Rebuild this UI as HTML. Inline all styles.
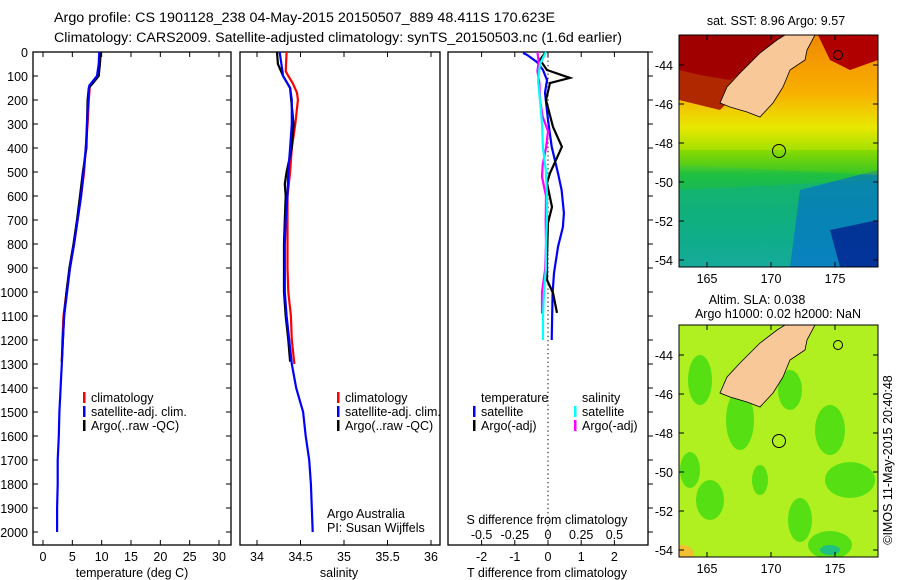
<!DOCTYPE html>
<html><head><meta charset="utf-8"><style>
html,body{margin:0;padding:0;background:#fff}
svg{display:block;font-family:"Liberation Sans",sans-serif}
text{font-size:12.5px;fill:#000}
</style></head><body>
<svg id="fig" width="900" height="580" viewBox="0 0 900 580">
<text x="54" y="22" textLength="501" lengthAdjust="spacingAndGlyphs" style="font-size:13.5px">Argo profile: CS 1901128_238 04-May-2015 20150507_889 48.411S 170.623E</text>
<text x="54" y="42" textLength="568" lengthAdjust="spacingAndGlyphs" style="font-size:13.5px">Climatology: CARS2009. Satellite-adjusted climatology: synTS_20150503.nc (1.6d earlier)</text>
<g id="panels"></g>
<g id="maps"></g>
</svg>
<script>
// ---- data ----
const depthTicks=[0,100,200,300,400,500,600,700,800,900,1000,1100,1200,1300,1400,1500,1600,1700,1800,1900,2000];
const tempTicks=[0,5,10,15,20,25,30];
const salTicks=[34,34.5,35,35.5,36];
const tdiffTicks=[-2,-1,0,1,2];
const sdiffTicks=[-0.5,-0.25,0,0.25,0.5];
// temperature
const tSatDepth=[0,50,100,140,200,300,400,500,600,700,800,900,1000,1100,1200,1300,1400,1500,1600,1700,1800,1900,2000];
const tSatVal=[9.6,9.5,9.2,7.9,7.7,7.5,7.3,6.9,6.5,5.9,5.3,4.6,4.1,3.6,3.4,3.2,3.0,2.8,2.7,2.5,2.5,2.4,2.4];
const tClimDepth=[0,50,100,140,200,300,400,500,600,700,800,900,1000,1100,1200,1290];
const tClimVal=[9.8,9.7,9.3,8.0,7.8,7.6,7.3,7.0,6.5,5.9,5.3,4.6,4.0,3.5,3.3,3.2];
const tArgoDepth=[0,50,100,130,150,200,300,400,500,600,700,800,900,1000,1100,1200,1290];
const tArgoVal=[9.8,9.7,9.5,8.5,7.8,7.6,7.5,7.4,6.8,6.3,5.8,5.2,4.5,4.0,3.6,3.4,3.2];
// salinity
const sSatDepth=[0,50,100,150,200,300,400,500,600,700,800,900,1000,1100,1200,1300,1400,1500,1600,1700,1800,1900,2000];
const sSatVal=[34.26,34.28,34.30,34.38,34.40,34.40,34.38,34.36,34.35,34.33,34.32,34.32,34.32,34.34,34.37,34.40,34.45,34.53,34.56,34.60,34.62,34.63,34.64];
const sClimDepth=[0,80,100,130,170,200,300,400,500,600,700,800,900,1000,1100,1200,1300];
const sClimVal=[34.34,34.33,34.36,34.41,34.46,34.47,34.44,34.40,34.38,34.35,34.35,34.35,34.35,34.36,34.39,34.40,34.43];
const sArgoDepth=[0,50,100,150,300,400,500,550,600,700,800,900,1000,1100,1200,1290];
const sArgoVal=[34.23,34.24,34.30,34.38,34.42,34.40,34.34,34.32,34.33,34.32,34.31,34.31,34.31,34.33,34.36,34.38];
// differences
const dTSatDepth=[4,12,42,75,117,170,283,395,505,575,671,729,812,921,1004,1200];
const dTSatVal=[-0.75,-0.63,-0.33,-0.15,-0.03,-0.09,0,0.11,0.30,0.41,0.48,0.45,0.30,0.18,0.14,0.11];
const dTArgoDepth=[4,33,75,108,129,200,312,395,505,546,646,712,854,950,1004,1087];
const dTArgoVal=[-0.09,-0.24,-0.03,0.66,0.06,-0.06,0.15,0.42,0.06,-0.03,0.12,0,-0.03,-0.03,0.15,0.27];
const dSSatDepth=[0,50,120,200,300,400,500,600,700,800,900,1000,1100,1200];
const dSSatVal=[-0.015,-0.06,-0.075,-0.06,-0.045,-0.038,-0.015,-0.008,-0.008,-0.015,-0.015,-0.03,-0.038,-0.038];
const dSArgoDepth=[0,40,80,130,200,270,330,400,470,520,600,700,800,900,1000,1090];
const dSArgoVal=[-0.08,-0.07,-0.08,-0.065,-0.06,-0.04,0,-0.015,-0.04,-0.045,-0.015,-0.017,-0.015,-0.02,-0.045,-0.045];

const NS='http://www.w3.org/2000/svg';
function mk(tag,attrs,parent){const e=document.createElementNS(NS,tag);for(const k in attrs)e.setAttribute(k,attrs[k]);parent.appendChild(e);return e;}
const Y0=52,Y1=532,BOT=545;
const yD=d=>Y0+(Y1-Y0)*d/2000;
const panels=document.getElementById('panels');
function linAx(v0,x0,v1,x1){return v=>x0+(v-v0)*(x1-x0)/(v1-v0);}
const xT=linAx(0,43,30,219), xS=linAx(34,257,36,431), xDT=linAx(0,548,1,581.2), xDS=linAx(0,548,0.25,581.2);

function frame(x0,x1,name){
  const r=mk('rect',{x:x0,y:Y0,width:x1-x0,height:BOT-Y0,fill:'none',stroke:'#000','stroke-width':1.3},panels);
  
  
}
function xticks(ticks,fx,labY,fmt,name){
  ticks.forEach(t=>{const x=fx(t);
    mk('line',{x1:x,x2:x,y1:Y0,y2:Y0+5,stroke:'#000'},panels);
    mk('line',{x1:x,x2:x,y1:BOT,y2:BOT-5,stroke:'#000'},panels);
    const tx=mk('text',{x:x,y:labY,'text-anchor':'middle'},panels);tx.textContent=fmt(t);
    
    
  });
}
function line(dep,val,fx,color,name){
  const pts=dep.map((d,i)=>fx(val[i]).toFixed(1)+','+yD(d).toFixed(1)).join(' ');
  const p=mk('polyline',{points:pts,fill:'none',stroke:color,'stroke-width':2.2},panels);
  
  
}
function label(x,y,s,name,anchor){const t=mk('text',{x:x,y:y,'text-anchor':anchor||'start'},panels);t.textContent=s;
  
  return t;}
function legend(x,y,color,s,name){mk('rect',{x:x,y:y-10,width:2.5,height:11,fill:color},panels);label(x+8,y,s,name);}

frame(33,231,'temperature-panel');frame(240,440,'salinity-panel');frame(448,648,'difference-panel');
depthTicks.forEach(d=>{const y=yD(d);
  mk('line',{x1:33,x2:38,y1:y,y2:y,stroke:'#000'},panels);
  mk('line',{x1:231,x2:226,y1:y,y2:y,stroke:'#000'},panels);
  mk('line',{x1:648,x2:653,y1:y,y2:y,stroke:'#000'},panels);
  label(28,y+5,String(d),'depth-tick-label','end');
});
xticks(tempTicks,xT,561,String,'temperature-tick-label');
xticks(salTicks,xS,561,String,'salinity-tick-label');
xticks(tdiffTicks,xDT,561,String,'t-diff-tick-label');
sdiffTicks.forEach(t=>{const tx=label(xDS(t),539,String(t).replace('-','\u22120').replace('\u22120.','-0.').replace('0.','0.'),'s-diff-tick-label','middle');tx.textContent=String(t);});
label(132,577,'temperature (deg C)','temperature-axis-title','middle');
label(339,577,'salinity','salinity-axis-title','middle');
label(547,577,'T difference from climatology','t-diff-axis-title','middle');
label(547,524,'S difference from climatology','s-diff-axis-title','middle');
mk('line',{x1:548,x2:548,y1:Y0,y2:BOT,stroke:'#000','stroke-dasharray':'1.3 3'},panels);

line(tClimDepth,tClimVal,xT,'#ff0000','temp-climatology-line');
line(tArgoDepth,tArgoVal,xT,'#000000','temp-argo-line');
line(tSatDepth,tSatVal,xT,'#0000ff','temp-satellite-line');
line(sClimDepth,sClimVal,xS,'#ff0000','sal-climatology-line');
line(sArgoDepth,sArgoVal,xS,'#000000','sal-argo-line');
line(sSatDepth,sSatVal,xS,'#0000ff','sal-satellite-line');
line(dTSatDepth,dTSatVal,xDT,'#0000ff','tdiff-satellite-line');
line(dTArgoDepth,dTArgoVal,xDT,'#000000','tdiff-argo-line');
line(dSArgoDepth,dSArgoVal,xDS,'#ff00ff','sdiff-argo-line');
line(dSSatDepth,dSSatVal,xDS,'#00ffff','sdiff-satellite-line');

legend(83,402,'#ff0000','climatology','legend-climatology');
legend(83,416,'#0000ff','satellite-adj. clim.','legend-satellite-adj');
legend(83,430,'#000000','Argo(..raw -QC)','legend-argo');
legend(337,402,'#ff0000','climatology','legend-climatology');
legend(337,416,'#0000ff','satellite-adj. clim.','legend-satellite-adj');
legend(337,430,'#000000','Argo(..raw -QC)','legend-argo');
label(481,402,'temperature','legend-temperature-header');
label(582,402,'salinity','legend-salinity-header');
legend(473,416,'#0000ff','satellite','legend-t-satellite');
legend(473,430,'#000000','Argo(-adj)','legend-t-argo');
legend(574,416,'#00ffff','satellite','legend-s-satellite');
legend(574,430,'#ff00ff','Argo(-adj)','legend-s-argo');
label(327,518,'Argo Australia','credit-argo-australia');
label(327,532,'PI: Susan Wijffels','credit-pi');

// ---- maps ----
const lonTicks=[165,170,175];
const latTicks=[-44,-46,-48,-50,-52,-54];
const maps=document.getElementById('maps');
const mx=lon=>707+(lon-165)*12.8;
const land=[[785,35],[815,35],[807,50],[805,60],[790,70],[783,87],[773,103],[760,117],[747,112],[730,107],[720,103],[727,87],[740,73],[760,53],[777,40]];
function drawMap(oy,kind,name){
  const g=mk('g',{},maps);
  
  
  const id='cl'+kind;
  const cp=mk('clipPath',{id:id},g);mk('rect',{x:679,y:35+oy,width:199,height:232},cp);
  const inner=mk('g',{'clip-path':'url(#'+id+')'},g);
  if(kind==='sst'){
    const d=mk('defs',{},g);const lg=mk('linearGradient',{id:'gsst',x1:0,y1:0,x2:0,y2:1},d);
    [[0,'#f08800'],[0.25,'#f8b000'],[0.4,'#e8e800'],[0.5,'#a0e000'],[0.6,'#20c040'],[0.75,'#10b070'],[0.9,'#10a8a0'],[1,'#20a0c0']].forEach(s=>mk('stop',{offset:s[0],'stop-color':s[1]},lg));
    mk('rect',{x:679,y:35,width:199,height:232,fill:'url(#gsst)'},inner);
    mk('polygon',{points:'679,35 790,35 740,90 720,110 679,100',fill:'#b02800'},inner);
    mk('polygon',{points:'679,35 790,35 760,60 730,80 700,75 679,70',fill:'#a00000'},inner);
    mk('polygon',{points:'818,35 878,35 878,60 850,70 830,60',fill:'#b00000'},inner);
    mk('polygon',{points:'679,190 878,180 878,267 679,267',fill:'#10b080','opacity':0.6},inner);
    mk('polygon',{points:'800,190 878,170 878,267 790,267',fill:'#0060e0','opacity':0.55},inner);
    mk('polygon',{points:'830,230 878,220 878,267 840,267',fill:'#000080','opacity':0.6},inner);
    mk('polygon',{points:'679,150 878,150 878,175 679,165',fill:'#60d000','opacity':0.4},inner);
  } else {
    mk('rect',{x:679,y:325,width:199,height:232,fill:'#b0f020'},inner);
    [[700,380,12,25],[740,420,14,30],[790,390,12,20],[830,430,15,25],[710,500,14,20],[850,480,25,18],[800,520,12,22],[830,545,22,14],[760,480,8,15],[690,470,10,18]].forEach(b=>mk('ellipse',{cx:b[0],cy:b[1],rx:b[2],ry:b[3],fill:'#40dc10',opacity:0.8},inner));
    mk('ellipse',{cx:682,cy:555,rx:12,ry:10,fill:'#f0c030'},inner);
    mk('ellipse',{cx:830,cy:550,rx:10,ry:5,fill:'#20c080'},inner);
  }
  mk('polygon',{points:land.map(p=>p[0]+','+(p[1]+oy)).join(' '),fill:'#f8c898',stroke:'#000','stroke-width':0.8},inner);
  mk('circle',{cx:779,cy:151+oy,r:6.5,fill:'none',stroke:'#000','stroke-width':1},inner);
  mk('circle',{cx:838,cy:55+oy,r:4.5,fill:'none',stroke:'#000','stroke-width':1},inner);
  mk('rect',{x:679,y:35+oy,width:199,height:232,fill:'none',stroke:'#000'},g);
  lonTicks.forEach(l=>{const x=mx(l);mk('line',{x1:x,x2:x,y1:35+oy,y2:40+oy,stroke:'#000'},g);mk('line',{x1:x,x2:x,y1:267+oy,y2:262+oy,stroke:'#000'},g);
    const t=mk('text',{x:x,y:283+oy,'text-anchor':'middle'},g);t.textContent=String(l);
    
    });
  latTicks.forEach(l=>{const y=65+oy+(-44-l)*19.5;mk('line',{x1:679,x2:684,y1:y,y2:y,stroke:'#000'},g);mk('line',{x1:878,x2:873,y1:y,y2:y,stroke:'#000'},g);
    const t=mk('text',{x:673,y:y+5,'text-anchor':'end'},g);t.textContent=String(l);
    
    });
}
drawMap(0,'sst','sst-map');
drawMap(290,'sla','sla-map');
function mtext(x,y,s,name,extra){const t=mk('text',Object.assign({x:x,y:y,'text-anchor':'middle'},extra||{}),maps);t.textContent=s;
  
  }
mtext(776,25,'sat. SST: 8.96 Argo: 9.57','sst-map-title');
mtext(757,304,'Altim. SLA: 0.038','sla-map-title');
mtext(778,318,'Argo h1000: 0.02 h2000: NaN','sla-map-subtitle');
mtext(892,460,'\u00a9IMOS 11-May-2015 20:40:48','imos-credit',{transform:'rotate(-90 892 460)'});
</script>
</body></html>
